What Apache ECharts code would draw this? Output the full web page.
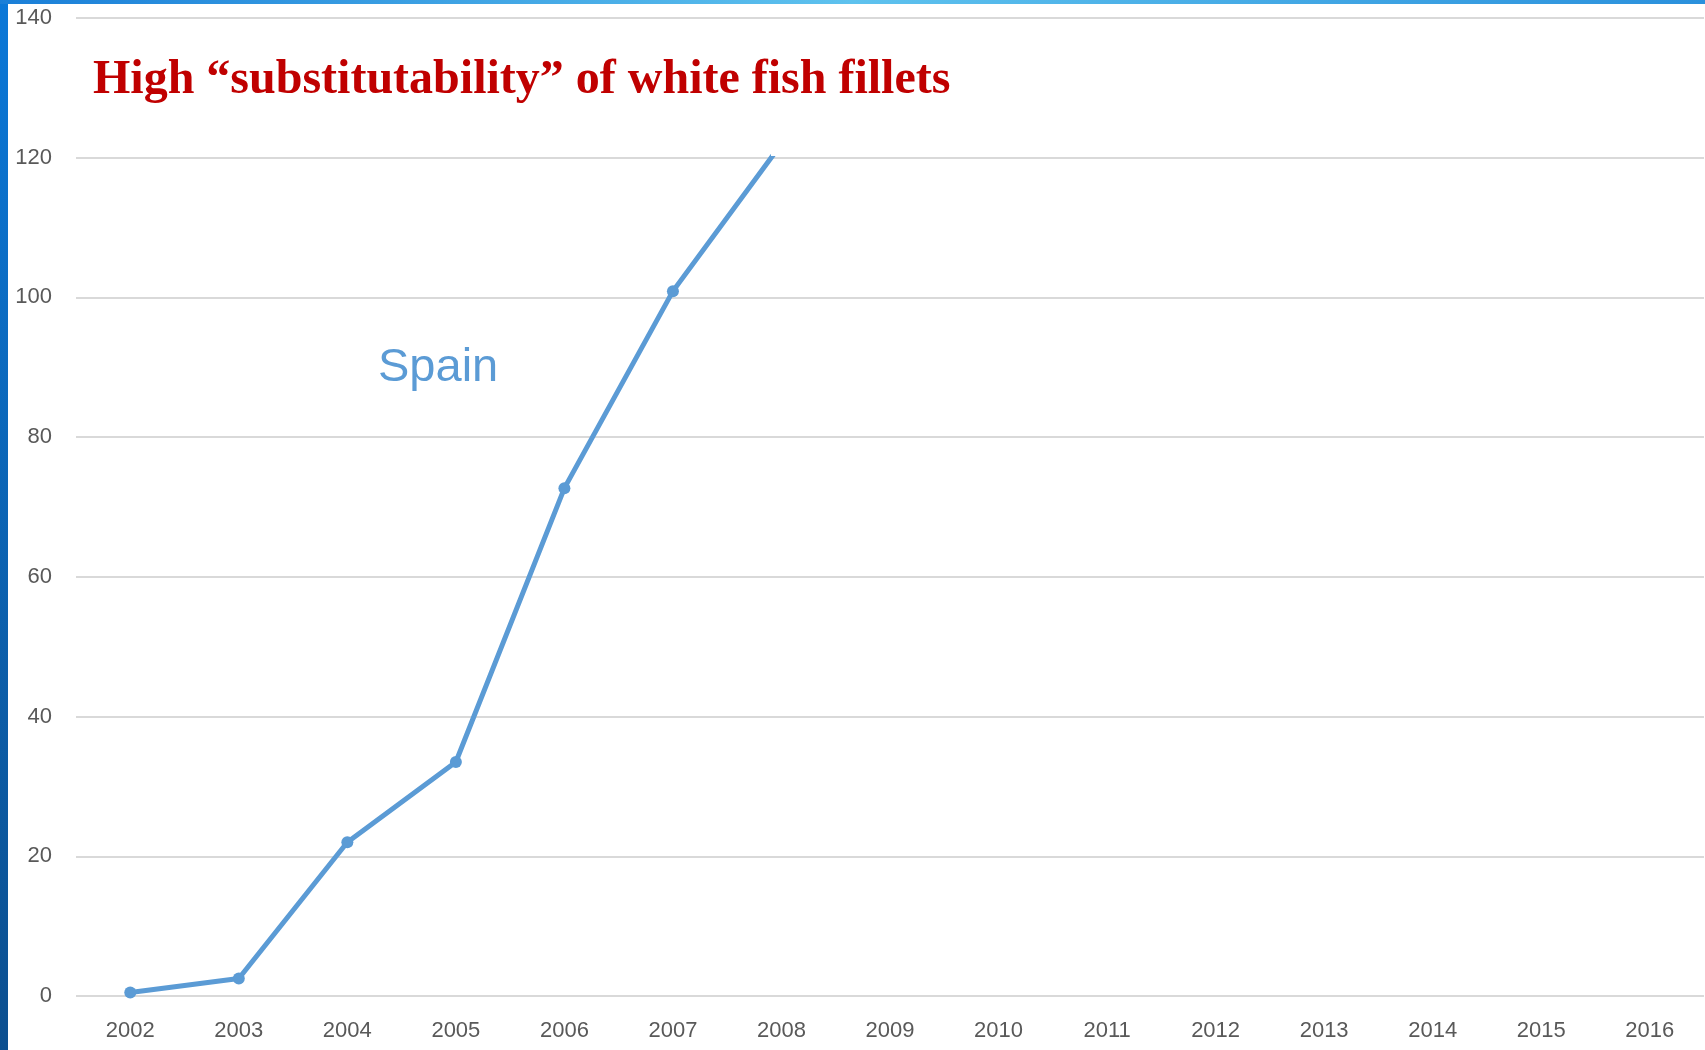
<!DOCTYPE html>
<html>
<head>
<meta charset="utf-8">
<script src="https://cdn.jsdelivr.net/npm/echarts@6/dist/echarts.min.js"></script>
<style>
html,body{margin:0;padding:0;background:#fff;}
#chart{width:1705px;height:1050px;}
</style>
</head>
<body>
<div id="chart"></div>
<script>
const years = ['2002','2003','2004','2005','2006','2007','2008','2009','2010','2011','2012','2013','2014','2015','2016'];
const spain = [0.5, 2.5, 22, 33.5, 72.7, 100.9, 122];
const yTicks = [0, 20, 40, 60, 80, 100, 120, 140];
const titleText = 'High \u201csubstitutability\u201d of white fish fillets';
const seriesLabel = 'Spain';

const chart = echarts.init(document.getElementById('chart'));
const lineColor = '#5B9BD5';

const seriesData = spain.map((v, i) => i === spain.length - 1 ? { value: v, symbol: 'none' } : v);

chart.setOption({
  animation: false,
  backgroundColor: '#ffffff',
  title: {
    text: titleText,
    left: 88,
    top: 52,
    textStyle: { fontFamily: 'Liberation Serif', fontWeight: 'bold', fontSize: 48, color: '#C00000' }
  },
  grid: { left: 76, right: 1, top: 18, bottom: 54, containLabel: false },
  xAxis: {
    type: 'category',
    data: years,
    boundaryGap: true,
    axisLine: { show: false },
    axisTick: { show: false },
    axisLabel: { margin: 24, fontFamily: 'Liberation Sans', fontSize: 22, color: '#595959' }
  },
  yAxis: {
    type: 'value',
    min: yTicks[0],
    max: yTicks[yTicks.length - 1],
    interval: 20,
    axisLine: { show: false },
    axisTick: { show: false },
    axisLabel: { margin: 24, fontFamily: 'Liberation Sans', fontSize: 22, color: '#595959' },
    splitLine: { lineStyle: { color: '#d9d9d9', width: 2 } }
  },
  series: [{
    type: 'line',
    name: seriesLabel,
    data: seriesData,
    symbol: 'circle',
    symbolSize: 12,
    lineStyle: { color: lineColor, width: 5 },
    itemStyle: { color: lineColor }
  }],
  graphic: [
    { type: 'rect', left: 0, top: 0, z: 100, shape: { width: 8, height: 1050 },
      style: { fill: new echarts.graphic.LinearGradient(0, 0, 0, 1, [{offset: 0, color: '#0b78d8'}, {offset: 1, color: '#0c4f8f'}]) } },
    { type: 'rect', left: 0, top: 0, z: 100, shape: { width: 1705, height: 4 },
      style: { fill: new echarts.graphic.LinearGradient(0, 0, 1, 0, [{offset: 0, color: '#1a7fd8'}, {offset: 0.5, color: '#5ec2ee'}, {offset: 1, color: '#2a90dc'}]) } },
    { type: 'rect', left: 771, top: 128, z: 50, shape: { width: 22, height: 28 }, style: { fill: '#ffffff' } },
    { type: 'text', left: 378, top: 345, z: 60,
      style: { text: seriesLabel, fontFamily: 'Liberation Sans', fontSize: 47, fill: lineColor } }
  ]
});
</script>
</body>
</html>
